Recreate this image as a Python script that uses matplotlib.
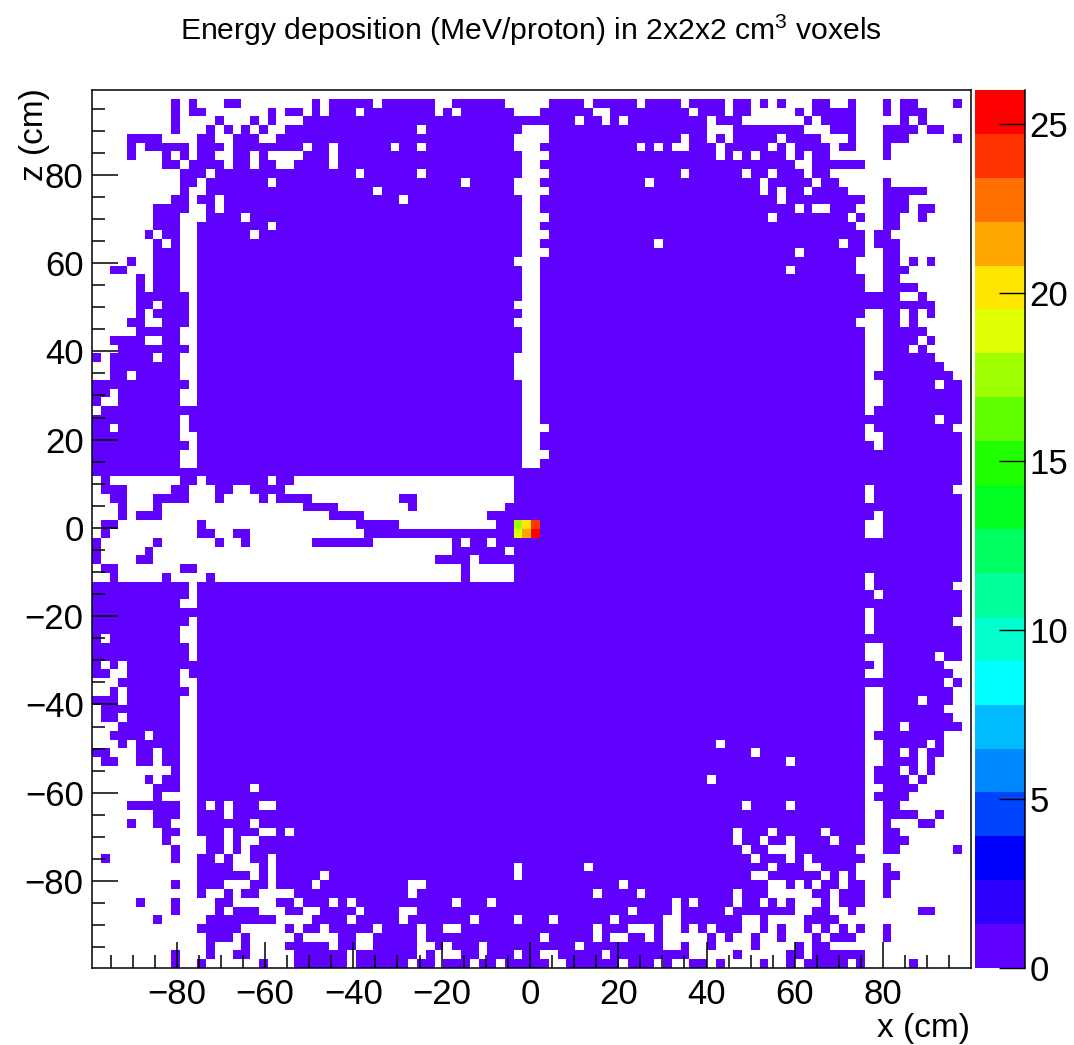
'''
Energy deposition per voxel (x-z slice), ROOT style COLZ map.
Each row of filled_runs is one z bin from the top, (first, last) x bins that hold energy.
'''
import numpy as np
import matplotlib
matplotlib.use('Agg')
import matplotlib.pyplot as plt
from matplotlib.colors import ListedColormap, BoundaryNorm

plt.rcParams['font.family'] = ['Liberation Sans', 'DejaVu Sans']
plt.rcParams['mathtext.default'] = 'regular'

W, H = 1074, 1045

n_bins = 100
x_range = (-99.2, 99.8)
z_range = (-99.7, 99.2)
z_max = 26.0
base_dep = 0.5

filled_runs = [
    [],
    [(9,9),(11,11),(15,16),(25,25),(27,31),(33,38),(41,46),(52,55),(57,61),(63,66),(68,71),(73,74),(76,76),(78,78),(82,83),(86,86),(90,90),(92,93),(98,98)],
    [(9,9),(11,12),(20,20),(22,23),(25,25),(27,29),(31,38),(40,40),(42,47),(51,56),(59,67),(69,71),(73,74),(80,80),(82,86),(90,90),(92,94)],
    [(9,9),(14,14),(18,18),(20,20),(24,54),(56,57),(59,59),(61,69),(71,73),(81,81),(83,86),(92,92),(94,94)],
    [(9,9),(13,13),(15,15),(17,17),(19,19),(22,36),(38,48),(52,69),(73,80),(84,86),(90,93),(95,96)],
    [(4,7),(12,13),(16,18),(21,47),(52,66),(68,69),(71,71),(73,77),(79,82),(86,86),(90,92),(98,98)],
    [(4,4),(6,10),(12,14),(16,23),(25,26),(28,33),(35,36),(38,47),(51,61),(63,63),(65,65),(68,70),(72,76),(78,78),(80,83),(85,86),(90,90)],
    [(4,4),(8,8),(10,10),(12,13),(16,17),(19,19),(24,26),(28,48),(52,70),(72,72),(74,74),(76,78),(80,80),(82,83),(90,90)],
    [(8,9),(11,14),(16,17),(19,20),(23,26),(28,48),(51,79),(82,87)],
    [(10,12),(14,29),(31,36),(38,48),(52,66),(68,73),(75,76),(78,80),(82,83)],
    [(10,11),(13,19),(21,41),(43,47),(51,62),(64,75),(77,81),(83,84),(90,90)],
    [(10,10),(13,31),(33,47),(52,75),(77,77),(79,80),(82,85),(90,94)],
    [(9,10),(12,13),(15,34),(36,48),(51,77),(79,87),(90,92)],
    [(7,10),(13,13),(15,48),(51,79),(81,81),(84,86),(90,92),(94,95)],
    [(7,9),(13,16),(18,48),(52,76),(78,85),(87,87),(90,91),(94,94)],
    [(7,9),(12,19),(21,48),(51,86),(90,91)],
    [(6,6),(8,9),(12,17),(19,48),(52,87),(89,90)],
    [(7,7),(9,9),(12,48),(51,63),(65,84),(86,87),(89,91)],
    [(7,9),(12,48),(52,79),(81,87),(90,91)],
    [(4,4),(7,9),(12,47),(51,86),(90,91),(93,93),(95,95)],
    [(2,3),(7,9),(12,48),(51,78),(80,86),(90,92)],
    [(5,5),(7,9),(12,48),(51,87),(90,91)],
    [(5,5),(7,9),(12,48),(51,87),(90,93)],
    [(5,10),(12,48),(51,91),(94,94)],
    [(5,6),(8,10),(12,47),(51,95)],
    [(5,5),(7,10),(12,48),(51,87),(90,91),(93,93),(95,95)],
    [(4,5),(8,10),(12,47),(51,86),(90,91),(93,93)],
    [(5,9),(12,48),(51,87),(90,94)],
    [(2,5),(8,9),(12,48),(51,87),(90,93),(95,95)],
    [(3,10),(12,48),(51,87),(90,92),(94,94)],
    [(0,0),(2,6),(8,9),(12,47),(51,87),(90,95)],
    [(2,9),(12,47),(51,87),(90,96)],
    [(2,3),(5,9),(12,47),(51,87),(89,97)],
    [(0,10),(12,48),(51,87),(90,95),(97,98)],
    [(0,1),(3,9),(12,48),(51,87),(90,98)],
    [(0,0),(3,9),(12,48),(51,87),(90,98)],
    [(1,48),(51,87),(89,98)],
    [(0,9),(11,48),(51,95),(97,98)],
    [(0,1),(3,9),(11,48),(52,87),(89,97)],
    [(0,9),(12,48),(51,87),(90,98)],
    [(0,10),(12,48),(51,88),(90,98)],
    [(0,9),(12,48),(52,98)],
    [(0,9),(12,48),(51,98)],
    [(0,98)],
    [(1,1),(10,11),(13,19),(21,22),(48,98)],
    [(1,3),(9,10),(14,15),(18,21),(48,87),(89,97)],
    [(2,3),(7,10),(14,14),(19,19),(21,24),(35,36),(48,87),(89,98)],
    [(3,3),(7,7),(24,27),(36,36),(47,98)],
    [(3,3),(5,7),(27,30),(45,88),(90,98)],
    [(1,2),(12,12),(30,34),(46,87),(90,98)],
    [(1,1),(12,13),(16,17),(31,87),(90,98)],
    [(0,0),(7,7),(14,14),(17,17),(25,31),(41,41),(43,44),(46,98)],
    [(0,0),(6,6),(41,46),(48,98)],
    [(0,0),(5,6),(39,42),(44,98)],
    [(1,2),(10,11),(42,42),(48,98)],
    [(2,2),(8,8),(13,13),(42,42),(48,87),(89,98)],
    [(0,10),(12,87),(89,97)],
    [(0,10),(12,88),(90,98)],
    [(0,9),(12,98)],
    [(0,87),(89,98)],
    [(0,10),(12,87),(89,97)],
    [(0,9),(12,87),(89,98)],
    [(0,0),(2,9),(12,98)],
    [(0,10),(12,87),(90,98)],
    [(0,10),(12,87),(90,95),(97,98)],
    [(0,0),(2,2),(4,88),(90,96)],
    [(0,1),(4,9),(11,87),(90,97)],
    [(3,9),(12,96),(98,98)],
    [(2,2),(4,10),(12,87),(90,97)],
    [(0,2),(4,9),(12,87),(90,93),(95,97)],
    [(1,9),(12,87),(90,96)],
    [(1,2),(4,9),(12,87),(90,97)],
    [(3,9),(12,87),(90,91),(93,98)],
    [(2,5),(7,9),(12,87),(89,96)],
    [(3,3),(5,9),(12,70),(72,87),(90,94),(96,96)],
    [(0,1),(5,6),(8,9),(12,74),(76,87),(90,91),(93,93),(95,96)],
    [(1,2),(5,6),(8,9),(12,78),(80,87),(90,93),(95,95)],
    [(9,9),(12,87),(89,91),(93,93),(95,95)],
    [(6,6),(8,9),(12,69),(71,87),(89,92),(94,94)],
    [(7,9),(12,17),(19,87),(90,93)],
    [(7,7),(12,87),(89,92)],
    [(4,9),(12,12),(14,14),(16,18),(21,73),(75,78),(80,87),(90,91)],
    [(7,9),(12,14),(16,87),(90,93),(96,96)],
    [(4,4),(7,8),(12,17),(19,87),(90,90),(94,95)],
    [(8,9),(12,14),(16,18),(21,21),(23,72),(74,76),(78,82),(84,87),(90,91)],
    [(8,8),(13,14),(16,16),(19,72),(74,75),(77,78),(80,83),(85,87),(90,92)],
    [(9,9),(13,14),(16,16),(18,73),(75,76),(80,86),(90,91),(98,98)],
    [(1,1),(9,9),(12,13),(15,15),(18,19),(21,74),(76,78),(80,80),(82,87)],
    [(12,15),(19,19),(21,47),(49,55),(57,76),(78,80),(83,86),(90,90)],
    [(12,17),(19,19),(21,25),(27,47),(49,74),(77,82),(84,84),(86,86),(90,91)],
    [(9,9),(12,14),(18,19),(21,24),(26,35),(38,59),(61,76),(79,79),(81,81),(83,84),(86,87),(90,90)],
    [(12,12),(15,15),(17,18),(23,35),(37,56),(58,61),(63,72),(74,76),(82,83),(85,87),(90,90)],
    [(5,5),(9,9),(14,15),(21,22),(24,26),(28,28),(30,40),(42,44),(46,65),(67,67),(69,72),(74,75),(77,77),(79,79),(83,83),(85,87)],
    [(9,9),(14,14),(16,18),(22,23),(26,29),(31,34),(37,60),(62,65),(67,71),(73,79),(82,83),(86,86),(94,95)],
    [(7,7),(13,20),(25,28),(30,34),(36,42),(44,47),(49,51),(53,58),(60,64),(67,73),(76,76),(81,84)],
    [(12,16),(22,22),(24,25),(27,31),(33,36),(38,39),(42,56),(58,60),(64,64),(67,67),(69,69),(71,73),(76,76),(78,78),(81,81),(83,83),(85,85),(87,87),(90,90)],
    [(13,15),(17,17),(23,23),(28,29),(32,36),(38,50),(52,56),(58,58),(61,62),(64,64),(70,70),(72,72),(75,75),(78,78),(82,82),(84,86),(90,90)],
    [(13,13),(17,17),(22,26),(28,29),(32,36),(39,39),(41,43),(45,54),(56,64),(67,67),(70,70),(75,75),(80,80),(82,83)],
    [(9,9),(13,13),(16,17),(23,28),(30,36),(38,38),(42,43),(45,47),(49,50),(53,57),(59,67),(73,73),(79,80),(82,87)],
    [(9,9),(12,12),(19,19),(23,28),(30,35),(37,38),(40,42),(44,45),(47,51),(54,59),(61,63),(65,65),(68,69),(71,71),(76,76),(79,79),(81,85),(87,87),(93,93)],
]

# the six hot voxels at the beam entrance (row, column, MeV/proton)
hot_rows = [49, 49, 49, 50, 50, 50]
hot_cols = [48, 49, 50, 48, 49, 50]
hot_vals = [17.5, 20.1, 24.0, 18.8, 21.4, 25.9]

# palette, bottom band to top band
band_colors = ['#6000ff', '#3000ff', '#0000ff', '#0044ff', '#0088ff', '#00bbff', '#00ffff',
               '#00ffcc', '#00ff99', '#00ff60', '#00ff20', '#20ff00', '#60ff00', '#9dff00',
               '#e0ff00', '#ffe600', '#ffa500', '#ff7000', '#ff3300', '#ff0000']

major_ticks = [-80, -60, -40, -20, 0, 20, 40, 60, 80]
minor_ticks = np.arange(-95, 100, 5)
cbar_ticks = [0, 5, 10, 15, 20, 25]

dep = np.full((n_bins, n_bins), np.nan)
for row, runs in enumerate(filled_runs):
    for first, last in runs:
        dep[row, first:last + 1] = base_dep
for row, col, val in zip(hot_rows, hot_cols, hot_vals):
    dep[row, col] = val

# row 0 is the top of the picture
dep = np.ma.masked_invalid(dep[::-1])
x_edges = np.linspace(x_range[0], x_range[1], n_bins + 1)
z_edges = np.linspace(z_range[0], z_range[1], n_bins + 1)

fig = plt.figure(figsize=(W / 100, H / 100), dpi=100)
ax = fig.add_axes([92 / W, 1 - 968 / H, (970.5 - 92) / W, (968 - 90) / H])
cax = fig.add_axes([975 / W, 1 - 968 / H, (1025 - 975) / W, (968 - 90) / H])

cmap = ListedColormap(band_colors)
norm = BoundaryNorm(np.linspace(0, z_max, len(band_colors) + 1), cmap.N)
mesh = ax.pcolormesh(x_edges, z_edges, dep, cmap=cmap, norm=norm, antialiased=False, linewidth=0)

ax.set_xlim(x_range)
ax.set_ylim(z_range)
ax.set_xticks(major_ticks)
ax.set_yticks(major_ticks)
ax.set_xticks(minor_ticks, minor=True)
ax.set_yticks(minor_ticks, minor=True)
ax.tick_params(which='major', direction='in', length=18.5, width=1.1, labelsize=25)
ax.tick_params(which='minor', direction='in', length=9.2, width=1.1)
ax.tick_params(axis='x', which='major', pad=7)
ax.tick_params(axis='y', which='major', pad=6)
for spine in ax.spines.values():
    spine.set_linewidth(1.1)

cb = fig.colorbar(mesh, cax=cax, ticks=cbar_ticks, spacing='proportional')
cb.outline.set_visible(False)
cax.minorticks_off()
cax.tick_params(direction='in', length=18.5, width=1.0, labelsize=25, pad=3)
cax.spines['right'].set_visible(True)
cax.spines['right'].set_linewidth(1.1)

fig.text(531 / W, 1 - 30 / H, 'Energy deposition (MeV/proton) in 2x2x2 cm$^{3}$ voxels',
         fontsize=21.7, ha='center', va='center')
fig.text(970 / W, 1 - 1028 / H, 'x (cm)', fontsize=24, ha='right', va='center')
fig.text(35 / W, 1 - 88 / H, 'z (cm)', fontsize=24, ha='center', va='top', rotation=90)

fig.savefig('out.png', dpi=100)
